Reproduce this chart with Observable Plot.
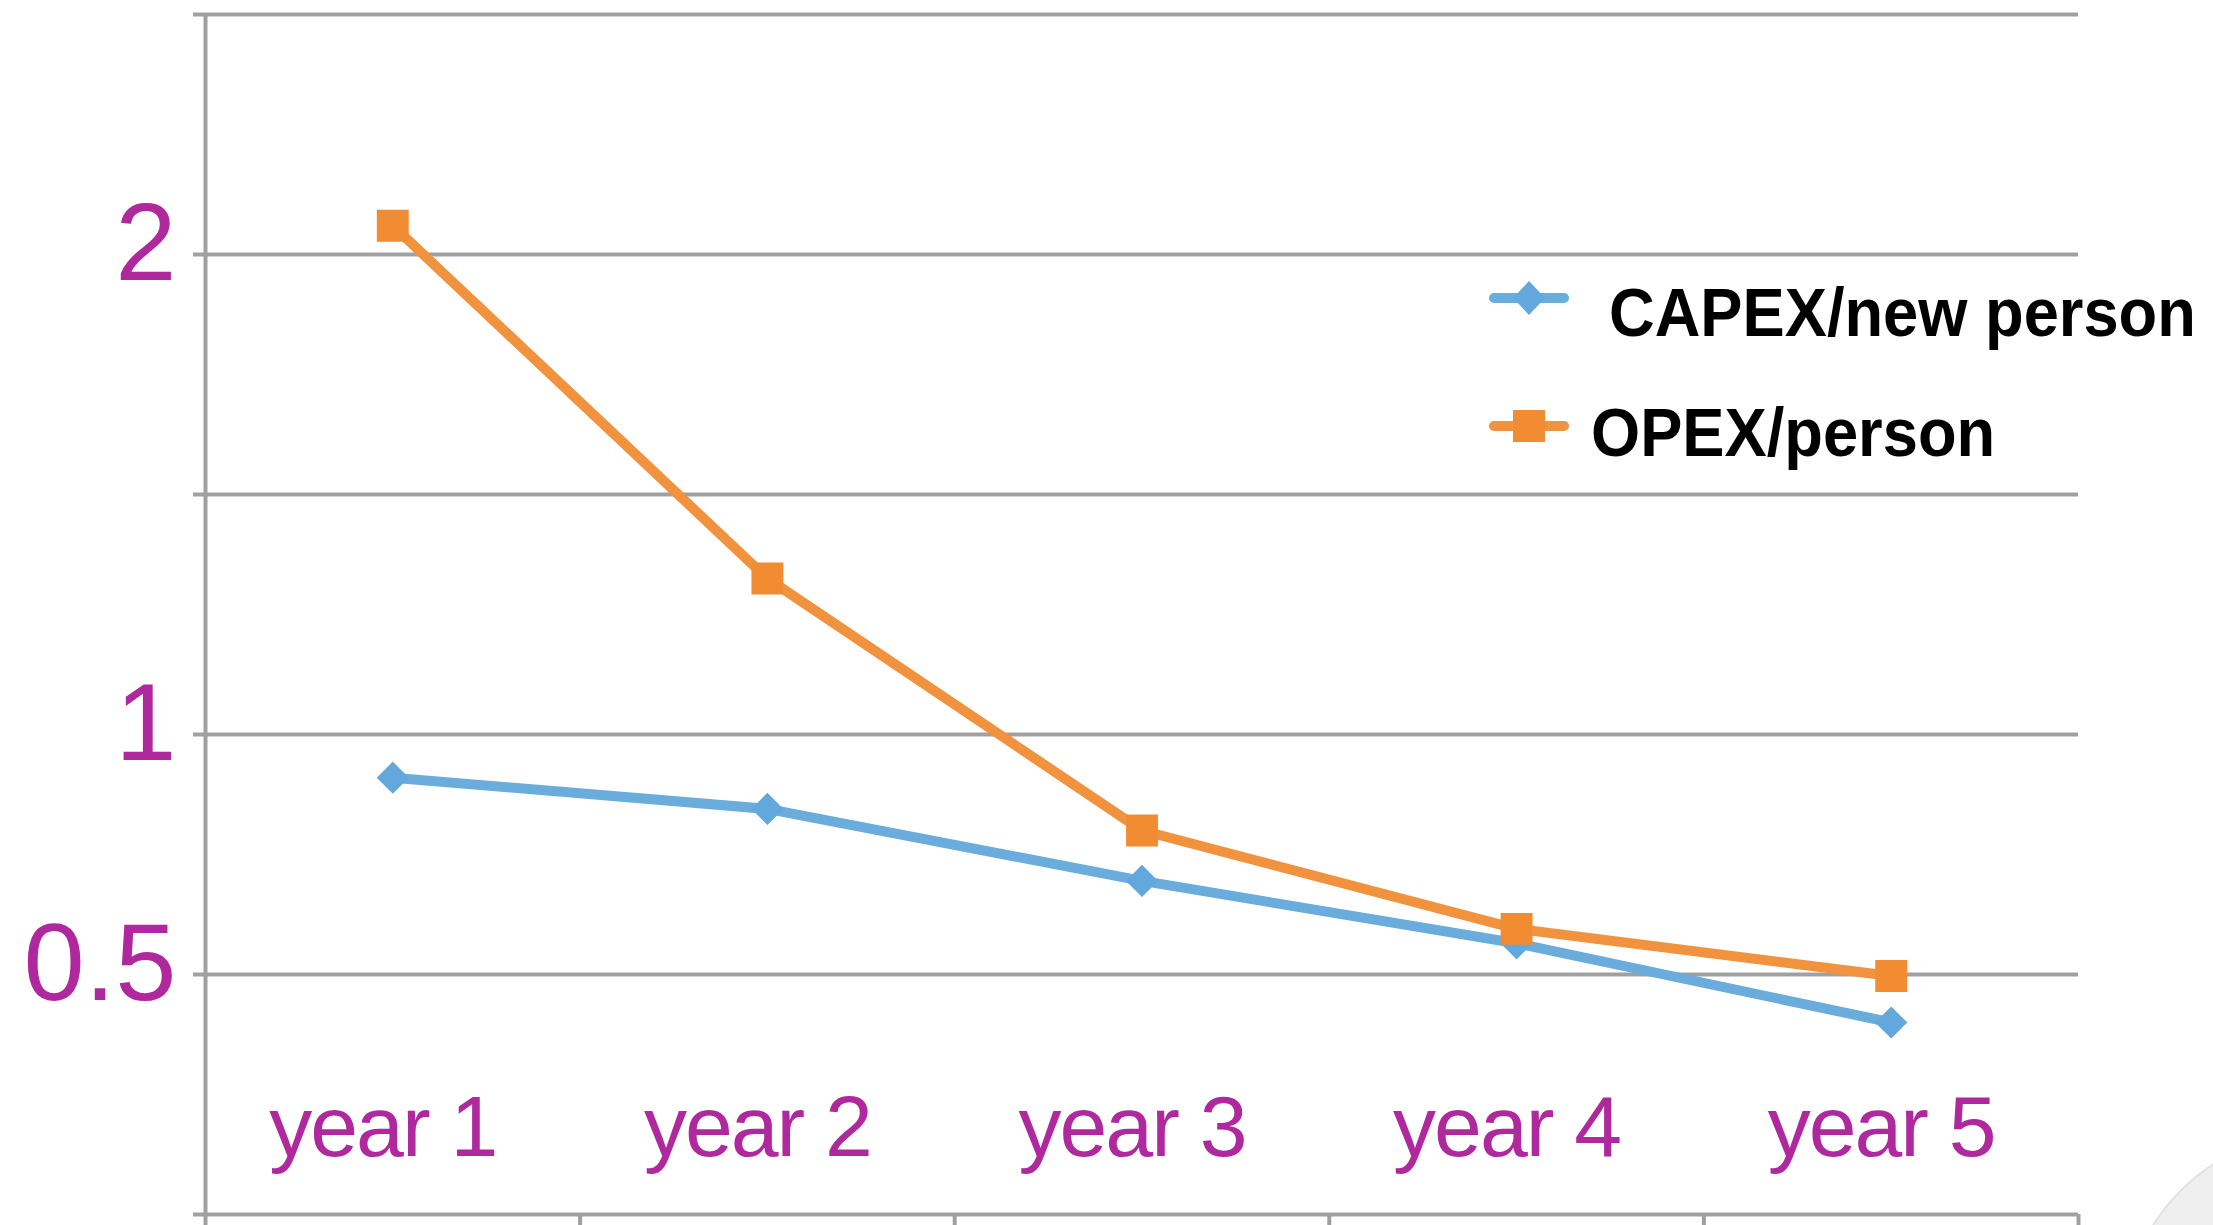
<!DOCTYPE html>
<html><head><meta charset="utf-8">
<script src="https://cdn.jsdelivr.net/npm/d3@7"></script>
<script src="https://cdn.jsdelivr.net/npm/@observablehq/plot@0.6"></script>
<style>
html,body{margin:0;padding:0;background:#fff;overflow:hidden}
#wrap{position:relative;width:2213px;height:1225px;overflow:hidden;background:#fff}
#wrap svg{position:relative}
g[aria-label="x-axis tick label"] text{letter-spacing:-2px}
.legend-item{position:absolute;height:68px;display:flex;align-items:center}
.legend-item span{font-family:"Liberation Sans",Arial,sans-serif;font-weight:bold;font-size:68px;line-height:68px;color:#000;transform:scaleX(0.93);transform-origin:left center;white-space:nowrap;display:inline-block}
.deco{position:absolute;left:2122px;top:1132px;width:396px;height:396px;border-radius:50%;background:#efefef;border:2px solid #e2e2e2;box-sizing:border-box}
</style></head><body><div id="wrap"><div class="deco"></div></div>
<script>
const years = ["year 1", "year 2", "year 3", "year 4", "year 5"];
const capex = [0.91, 0.845, 0.695, 0.565, 0.40];
const opex = [2.06, 1.325, 0.80, 0.595, 0.497];
const seriesNames = ["CAPEX/new person", "OPEX/person"];
const yTicks = [0, 0.5, 1, 1.5, 2, 2.5];
const yTickLabels = ["", "0.5", "1", "", "2", ""];
const xBoundaries = [0.5, 1.5, 2.5, 3.5, 4.5, 5.5];

const purple = "#b0289e", grid = "#a0a0a0", blue = "#6aaddd", orange = "#f1923f";
const blueMark = "#62a8dd", orangeMark = "#f28c32";

const capexRows = years.map((year, i) => ({idx: i + 1, year, value: capex[i]}));
const opexRows = years.map((year, i) => ({idx: i + 1, year, value: opex[i]}));

const chart = Plot.plot({
  width: 2213, height: 1225,
  marginLeft: 205, marginRight: 135, marginTop: 14, marginBottom: 11,
  style: {fontFamily: '"Liberation Sans", Arial, sans-serif', background: "transparent", overflow: "visible"},
  x: {type: "linear", domain: [0.5, 5.5]},
  y: {type: "linear", domain: [0, 2.5]},
  marks: [
    Plot.ruleY(yTicks, {stroke: grid, strokeWidth: 4}),
    Plot.ruleX([0.5], {stroke: grid, strokeWidth: 4}),
    Plot.axisY(yTicks, {tickFormat: () => "", tickSize: 12, stroke: grid, strokeWidth: 4, label: null}),
    Plot.axisY(yTicks, {tickFormat: d => yTickLabels[yTicks.indexOf(d)], tickSize: 0, tickPadding: 29,
      fontSize: 110, fill: purple, dy: -10, label: null}),
    Plot.axisX(xBoundaries, {tickFormat: () => "", tickSize: 12, stroke: grid, strokeWidth: 4, label: null}),
    Plot.axisX([1, 2, 3, 4, 5], {tickFormat: d => years[d - 1], tickSize: 0, tickPadding: 0,
      fontSize: 86, fill: purple, lineAnchor: "top", dy: -120, dx: -10, label: null}),
    Plot.line(capexRows, {x: "idx", y: "value", stroke: blue, strokeWidth: 10}),
    Plot.dot(capexRows, {x: "idx", y: "value", symbol: "diamond2", r: 14.5, fill: blueMark, stroke: null}),
    Plot.line(opexRows, {x: "idx", y: "value", stroke: orange, strokeWidth: 10}),
    Plot.dot(opexRows, {x: "idx", y: "value", symbol: "square", r: 18, fill: orangeMark, stroke: null})
  ]
});
const wrap = document.getElementById("wrap");
wrap.appendChild(chart);

// legend
const legendItems = [
  {name: seriesNames[0], color: blue, mark: blueMark, shape: "diamond", left: 1489, top: 264, textGap: 40, textDy: 14},
  {name: seriesNames[1], color: orange, mark: orangeMark, shape: "square", left: 1489, top: 392, textGap: 22, textDy: 6}
];
for (const it of legendItems) {
  const div = document.createElement("div");
  div.className = "legend-item";
  div.style.left = it.left + "px";
  div.style.top = it.top + "px";
  const shapeSvg = it.shape === "diamond"
    ? `<path d="M40,17 L56,34 L40,51 L24,34 Z" fill="${it.mark}"/>`
    : `<rect x="24" y="18" width="32" height="32" fill="${it.mark}"/>`;
  div.innerHTML = `<svg width="80" height="68" style="flex:none"><line x1="5" x2="75" y1="34" y2="34" stroke="${it.color}" stroke-width="10" stroke-linecap="round"/>${shapeSvg}</svg><span style="margin-left:${it.textGap}px;position:relative;top:${it.textDy}px">${it.name}</span>`;
  wrap.appendChild(div);
}
</script></body></html>
